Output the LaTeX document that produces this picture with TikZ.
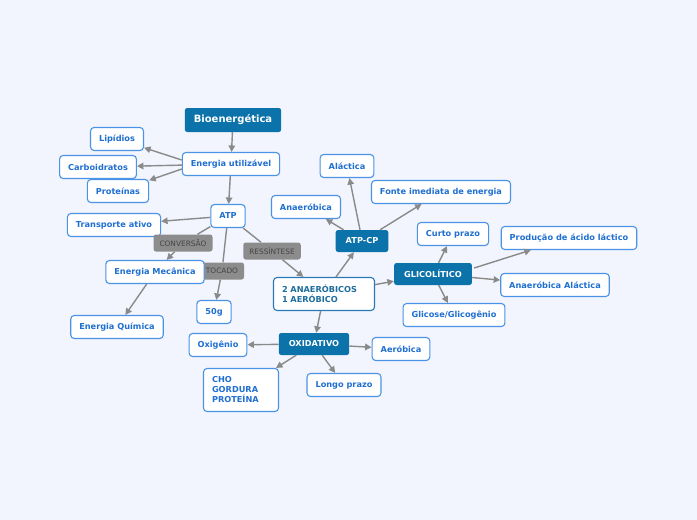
\documentclass[tikz,border=0pt]{standalone}
\usepackage{fontspec}
\setmainfont{DejaVu Sans}
\usetikzlibrary{positioning,arrows.meta}
\usepackage{xcolor}

\definecolor{bgcol}{HTML}{F2F5FD}
\definecolor{topictext}{HTML}{1F6FD1}
\definecolor{topicline}{HTML}{4A93E6}
\definecolor{darkblue}{HTML}{0B72AA}
\definecolor{linkgray}{HTML}{8A8A8A}
\definecolor{lblgray}{HTML}{8C8C8C}
\definecolor{lbltext}{HTML}{454545}
\definecolor{mixtext}{HTML}{1E6D9E}
\definecolor{mixline}{HTML}{2A78B8}

\begin{document}
\begin{tikzpicture}[
  x=1pt, y=-1pt,
  font=\bfseries\fontsize{8.2}{10}\selectfont,
  topic/.style={draw=topicline, fill=white, text=topictext, rounded corners=3.5pt,
                line width=1.1pt, minimum height=23pt, inner xsep=8.5pt, inner ysep=0pt},
  mix/.style={topic, draw=mixline, text=mixtext, align=left, text width=84pt,
              minimum height=33pt},
  proc/.style={fill=darkblue, text=white, rounded corners=2.5pt,
               minimum height=22pt, inner xsep=10pt, inner ysep=0pt},
  root/.style={proc, minimum height=24pt, inner xsep=9pt,
               font=\bfseries\fontsize{10}{12}\selectfont},
  lbl/.style={fill=lblgray, text=lbltext, rounded corners=2.5pt, minimum height=17pt,
              inner xsep=6pt, inner ysep=0pt, font=\fontsize{7.4}{8}\selectfont},
  link/.style={draw=linkgray, line width=1.4pt, -{Triangle[length=6.5pt,width=6.5pt]}},
  plain/.style={draw=linkgray, line width=1.4pt},
]

% ---- Background -------------------------------------------------------------
\useasboundingbox[fill=bgcol] (0,0) rectangle (697,520);

% ---- Left branch ------------------------------------------------------------
\node[root]  (bio)  at (233,120) {Bioenergética};
\node[topic] (util) at (231,164) {Energia utilizável};
\node[topic] (lip)  at (117,139) {Lipídios};
\node[topic] (carb) at (98,167)  {Carboidratos};
\node[topic] (prot) at (118,191) {Proteínas};
\node[topic] (atp)  at (228,216) {ATP};
\node[topic] (transp) at (114,225) {Transporte ativo};

% labels on the ATP links
\node[lbl] (conv) at (183,243) {CONVERSÃO};
\node[lbl] (estoc) at (222,271) {TOCADO};
\node[lbl] (ress) at (272,251) {RESSÍNTESE};

\node[topic] (mec)  at (155,272) {Energia Mecânica};
\node[topic] (quim) at (117,327) {Energia Química};
\node[topic] (g50)  at (214,312) {50g};

% ---- Energy systems ---------------------------------------------------------
\node[mix] (sis) at (324,294) {2 ANAERÓBICOS\\1 AERÓBICO};

\node[proc]  (atpcp) at (362,241) {ATP-CP};
\node[topic] (anae)  at (306,207) {Anaeróbica};
\node[topic] (alac)  at (347,166) {Aláctica};
\node[topic] (fonte) at (441,192) {Fonte imediata de energia};

\node[proc]  (glic)  at (433,274) {GLICOLÍTICO};
\node[topic] (curto) at (453,234) {Curto prazo};
\node[topic] (lact)  at (569,238) {Produção de ácido láctico};
\node[topic] (anal)  at (555,285) {Anaeróbica Aláctica};
\node[topic] (glico) at (454,315) {Glicose/Glicogênio};

\node[proc]  (oxi)   at (314,344) {OXIDATIVO};
\node[topic] (oxig)  at (218,345) {Oxigênio};
\node[topic] (aer)   at (401,349) {Aeróbica};
\node[topic, align=left, text width=58pt, minimum height=43pt] (fuel) at (241,390)
  {CHO\\GORDURA\\PROTEÍNA};
\node[topic] (longo) at (344,385) {Longo prazo};

% ---- Links ------------------------------------------------------------------
\draw[link] (bio) -- (util);
\draw[link] (util.west) ++(0,-4) -- (lip);
\draw[link] (util) -- (carb);
\draw[link] (util.west) ++(0,5) -- (prot);
\draw[link] (util) -- (atp);
\draw[link] (atp) -- (transp);
\draw[plain] (atp) -- (conv);
\draw[link] (conv) -- (mec);
\draw[plain] (atp) -- (estoc);
\draw[link] (estoc) -- (g50);
\draw[plain] (atp) -- (ress);
\draw[link] (ress) -- (sis);
\draw[link] (mec) -- (quim);

\draw[link] (sis.north) ++(12,0) -- (atpcp);
\draw[link] (sis) -- (glic);
\draw[link] (sis) -- (oxi);

\draw[link] (atpcp) -- (anae);
\draw[link] (atpcp.north) ++(-2,0) -- (alac);
\draw[link] (atpcp) -- (fonte);

\draw[link] (glic) -- (curto);
\draw[link] (glic.east) ++(2,-6) -- (lact);
\draw[link] (glic) -- (anal);
\draw[link] (glic) -- (glico);

\draw[link] (oxi) -- (oxig);
\draw[link] (oxi) -- (aer);
\draw[link] (oxi) -- (fuel);
\draw[link] (oxi) -- (longo);

\end{tikzpicture}
\end{document}
